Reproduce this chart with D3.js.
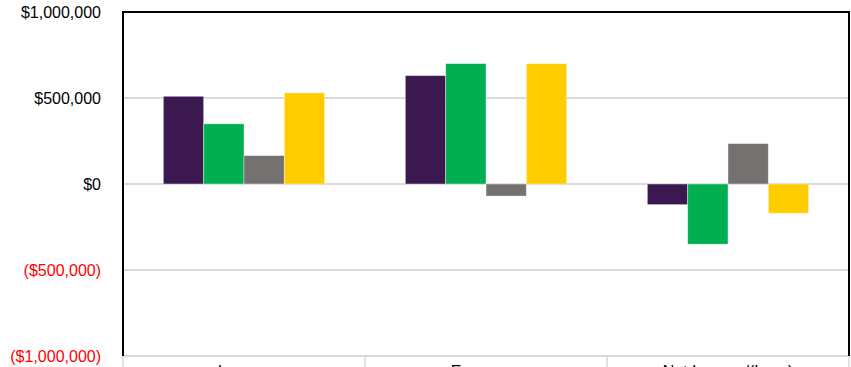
<!DOCTYPE html>
<html>
<head>
<meta charset="utf-8">
<script src="https://cdn.jsdelivr.net/npm/d3@7"></script>
<style>
  body { margin: 0; background: #fff; }
  svg { display: block; font-family: "Liberation Sans", Arial, sans-serif; }
</style>
</head>
<body>
<div id="chart"></div>
<script>
// data
const categories = ["Income", "Expenses", "Net Income/(Loss)"];
const seriesNames = ["Series 1", "Series 2", "Series 3", "Series 4"];
const seriesColors = ["#3B1850", "#00B050", "#767171", "#FFCC00"];
const values = [
  [510000, 350000, 165000, 530000],
  [630000, 700000, -70000, 700000],
  [-120000, -350000, 235000, -170000]
];
const yTicks = [1000000, 500000, 0, -500000, -1000000];

function barChart() {
  const width = 851;
  const height = 367;
  const margin = ({top: 12, right: 2, bottom: 11, left: 123});

  const svg = d3.select("#chart")
    .append("svg")
      .attr("width", width)
      .attr("height", height);

  const x0 = d3.scaleBand()
    .domain(categories)
    .range([margin.left, width - margin.right]);

  const x1 = d3.scaleBand()
    .domain(seriesNames)
    .range([0, x0.bandwidth()])
    .paddingOuter(1);

  const y = d3.scaleLinear()
    .domain([-1000000, 1000000])
    .range([height - margin.bottom, margin.top]);

  const color = d3.scaleOrdinal().domain(seriesNames).range(seriesColors);

  const money = d3.format(",");
  const fmt = v => v < 0 ? `($${money(-v)})` : `$${money(v)}`;

  // grid lines
  svg.append("g")
    .selectAll("line")
    .data(yTicks.filter(d => d < 1000000))
    .join("line")
      .attr("x1", margin.left)
      .attr("x2", width - margin.right)
      .attr("y1", d => y(d))
      .attr("y2", d => y(d))
      .attr("stroke", "#D9D9D9")
      .attr("stroke-width", 2);

  // category separators below the plot
  svg.append("g")
    .selectAll("line")
    .data([...categories.map(c => x0(c)), x0.range()[1]])
    .join("line")
      .attr("x1", d => d)
      .attr("x2", d => d)
      .attr("y1", y(-1000000))
      .attr("y2", height)
      .attr("stroke", "#D9D9D9")
      .attr("stroke-width", 1.5);

  // bars
  svg.append("g")
    .selectAll("g")
    .data(categories)
    .join("g")
      .attr("transform", c => `translate(${x0(c)},0)`)
    .selectAll("rect")
    .data((c, i) => seriesNames.map((s, j) => ({s, v: values[i][j]})))
    .join("rect")
      .attr("x", d => x1(d.s))
      .attr("width", x1.bandwidth())
      .attr("y", d => y(Math.max(0, d.v)))
      .attr("height", d => Math.abs(y(d.v) - y(0)))
      .attr("fill", d => color(d.s))
      .attr("stroke", "rgba(255,255,255,0.5)")
      .attr("stroke-width", 0.8);

  // plot border (left, top, right)
  const bx1 = margin.left, bx2 = width - margin.right;
  const by1 = margin.top, by2 = y(-1000000);
  svg.append("path")
    .attr("d", `M${bx1},${by2}V${by1}H${bx2}V${by2}`)
    .attr("fill", "none")
    .attr("stroke", "#000")
    .attr("stroke-width", 2);

  // y labels
  svg.append("g")
    .selectAll("text")
    .data(yTicks)
    .join("text")
      .attr("x", 101)
      .attr("y", d => y(d))
      .attr("dy", "0.35em")
      .attr("text-anchor", "end")
      .attr("font-size", 16)
      .attr("fill", d => d < 0 ? "#FF0000" : "#000")
      .text(fmt);

  // category labels (cut off at the bottom edge)
  svg.append("g")
    .selectAll("text")
    .data(categories)
    .join("text")
      .attr("x", c => x0(c) + x0.bandwidth() / 2)
      .attr("y", 377)
      .attr("text-anchor", "middle")
      .attr("font-size", 16)
      .attr("fill", "#000")
      .text(c => c);
}

window.onload = barChart;
</script>
</body>
</html>
